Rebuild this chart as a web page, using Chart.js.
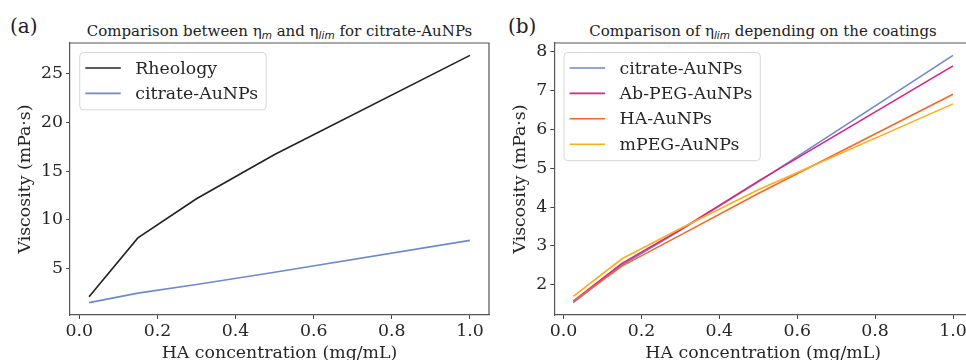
<!DOCTYPE html>
<html>
<head>
<meta charset="utf-8">
<script src="https://cdn.jsdelivr.net/npm/chart.js@4.4.0/dist/chart.umd.min.js"></script>
<style>
  html, body { margin: 0; padding: 0; background: #fff; overflow: hidden; width: 966px; height: 360px; }
  .box { position: absolute; top: 0; }
  .tag { position: absolute; font-family: 'DejaVu Serif'; font-size: 20px; line-height: 1; color: #222; }
  .title { position: absolute; font-family: 'DejaVu Serif'; font-size: 15px; line-height: 1; color: #222;
           white-space: nowrap; transform: translateX(-50%); }
  .title sub { font-family: 'DejaVu Sans'; font-style: italic; font-size: 10.5px; vertical-align: baseline;
               position: relative; top: 3px; }
</style>
</head>
<body>
<div class="tag" style="left:10px; top:16px;">(a)</div>
<div class="tag" style="left:508px; top:16px;">(b)</div>
<div class="title" style="left:279.5px; top:24px;">Comparison between η<sub>m</sub> and η<sub>lim</sub> for citrate-AuNPs</div>
<div class="title" style="left:763px; top:24px;">Comparison of η<sub>lim</sub> depending on the coatings</div>
<div class="box" style="left:0px;"><canvas id="chartA" width="500" height="370"></canvas></div>
<div class="box" style="left:483px;"><canvas id="chartB" width="490" height="370"></canvas></div>
<script>
// HA concentration (mg/mL)
const xValues = [0.025, 0.15, 0.3, 0.5, 1.0];
// viscosity (mPa·s)
const rheology = [2.14, 8.16, 12.17, 16.7, 26.84];
const citrate = [1.54, 2.51, 3.40, 4.65, 7.91];
const abPeg = [1.58, 2.55, 3.42, 4.67, 7.64];
const haCoat = [1.57, 2.48, 3.28, 4.35, 6.91];
const mPeg = [1.70, 2.67, 3.45, 4.45, 6.66];

const xTicks = [0, 0.2, 0.4, 0.6, 0.8, 1.0];
const yTicksA = [5, 10, 15, 20, 25];
const yTicksB = [2, 3, 4, 5, 6, 7, 8];

const serif = 'DejaVu Serif';
const textColor = '#262626';
const fontSize = 17.33;

function pts(arr) {
  return xValues.map(function (x, i) { return { x: x, y: arr[i] }; });
}

// matplotlib style 5% margins
function padRange(vals) {
  var lo = Math.min.apply(null, vals), hi = Math.max.apply(null, vals);
  var m = (hi - lo) * 0.05;
  return [lo - m, hi + m];
}

const framePlugin = {
  id: 'frame',
  afterDatasetsDraw: function (chart) {
    var a = chart.chartArea, ctx = chart.ctx;
    ctx.save();
    ctx.strokeStyle = '#555';
    ctx.lineWidth = 1.2;
    ctx.beginPath();
    ctx.moveTo(a.left, a.top);
    ctx.lineTo(a.right, a.top);
    ctx.lineTo(a.right, a.bottom);
    ctx.stroke();
    ctx.restore();
  }
};

const legendPlugin = {
  id: 'boxLegend',
  afterDatasetsDraw: function (chart) {
    var ctx = chart.ctx, a = chart.chartArea;
    var sets = chart.data.datasets;
    ctx.save();
    ctx.font = fontSize + 'px "' + serif + '"';
    var w = 0;
    sets.forEach(function (d) { w = Math.max(w, ctx.measureText(d.label).width); });
    var bx = a.left + 9.7, by = a.top + 9.5;
    var rowH = 25.4, firstRow = a.top + 25;
    var bw = 55.6 + w + 8;
    var bh = (firstRow + (sets.length - 1) * rowH + 16.5) - by;
    ctx.beginPath();
    ctx.roundRect(bx, by, bw, bh, 4);
    ctx.fillStyle = 'rgba(255,255,255,0.8)';
    ctx.fill();
    ctx.strokeStyle = '#d6d6d6';
    ctx.lineWidth = 1;
    ctx.stroke();
    ctx.textBaseline = 'middle';
    ctx.textAlign = 'left';
    sets.forEach(function (d, i) {
      var y = firstRow + i * rowH;
      ctx.strokeStyle = d.borderColor;
      ctx.lineWidth = d.borderWidth;
      ctx.beginPath();
      ctx.moveTo(a.left + 15.3, y);
      ctx.lineTo(a.left + 50.8, y);
      ctx.stroke();
      ctx.fillStyle = textColor;
      ctx.fillText(d.label, a.left + 65.3, y + 1);
    });
    ctx.restore();
  }
};

function makeChart(id, datasets, yTicks, yWidth, yTitlePad, padRight) {
  var xr = padRange(xValues);
  var allY = [];
  datasets.forEach(function (d) { d.data.forEach(function (p) { allY.push(p.y); }); });
  var yr = padRange(allY);
  var tickFont = { family: serif, size: fontSize };
  return new Chart(document.getElementById(id), {
    type: 'line',
    data: { datasets: datasets },
    plugins: [framePlugin, legendPlugin],
    options: {
      responsive: false,
      animation: false,
      layout: { autoPadding: false, padding: { left: 0, right: padRight, top: 43, bottom: 0 } },
      plugins: { legend: { display: false }, tooltip: { enabled: false } },
      elements: { point: { radius: 0 }, line: { tension: 0 } },
      scales: {
        x: {
          type: 'linear', min: xr[0], max: xr[1],
          afterBuildTicks: function (s) { s.ticks = xTicks.map(function (v) { return { value: v }; }); },
          afterFit: function (s) { s.height = 55; },
          ticks: { callback: function (v) { return v.toFixed(1); }, font: tickFont, color: textColor,
                   padding: 2, maxRotation: 0, autoSkip: false },
          grid: { drawOnChartArea: false, tickLength: 4, tickColor: '#444', tickWidth: 1 },
          border: { color: '#555', width: 1.2 },
          title: { display: true, text: 'HA concentration (mg/mL)', font: tickFont, color: textColor,
                   padding: { top: 0, bottom: 6.4 } }
        },
        y: {
          type: 'linear', min: yr[0], max: yr[1],
          afterBuildTicks: function (s) { s.ticks = yTicks.map(function (v) { return { value: v }; }); },
          afterFit: function (s) { s.width = yWidth; },
          ticks: { font: tickFont, color: textColor, padding: 3, autoSkip: false },
          grid: { drawOnChartArea: false, tickLength: 4, tickColor: '#444', tickWidth: 1 },
          border: { color: '#555', width: 1.2 },
          title: { display: true, text: 'Viscosity (mPa·s)', font: tickFont, color: textColor,
                   padding: { top: yTitlePad, bottom: 0 } }
        }
      }
    }
  });
}

makeChart('chartA', [
  { label: 'Rheology', data: pts(rheology), borderColor: '#222222', borderWidth: 1.6, order: 1 },
  { label: 'citrate-AuNPs', data: pts(citrate), borderColor: '#6c8ad1', borderWidth: 1.6, order: 0 }
], yTicksA, 70, 14.6, 11);

makeChart('chartB', [
  { label: 'citrate-AuNPs', data: pts(citrate), borderColor: '#6c8ad1', borderWidth: 1.6, order: 3 },
  { label: 'Ab-PEG-AuNPs', data: pts(abPeg), borderColor: '#e0217f', borderWidth: 1.6, order: 2 },
  { label: 'HA-AuNPs', data: pts(haCoat), borderColor: '#f4692a', borderWidth: 1.6, order: 1 },
  { label: 'mPEG-AuNPs', data: pts(mPeg), borderColor: '#fdae1a', borderWidth: 1.6, order: 0 }
], yTicksB, 71.3, 27.1, 1);
</script>
</body>
</html>
